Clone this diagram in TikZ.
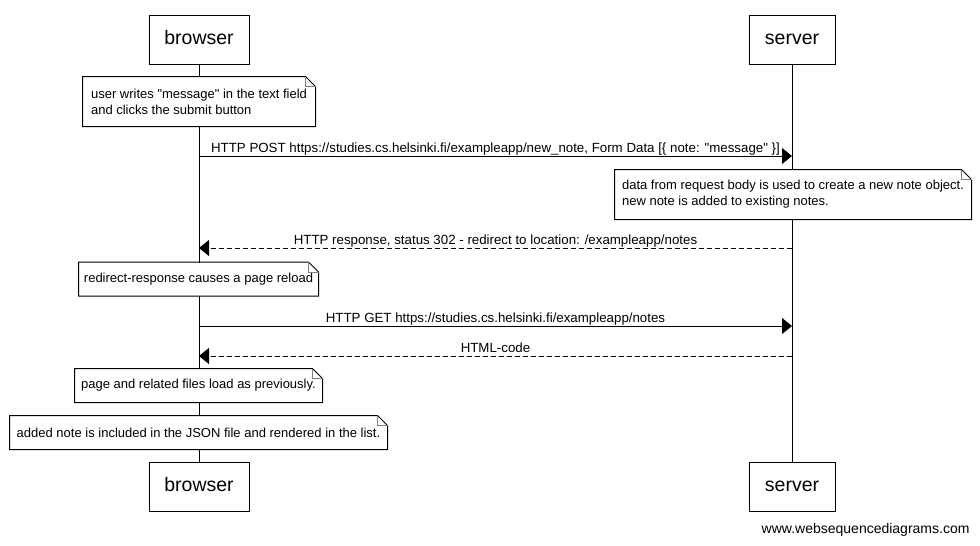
\documentclass[tikz,border=0pt]{standalone}
\usepackage{fontspec}
\setmainfont{Liberation Sans}
\usetikzlibrary{arrows.meta, calc, positioning}
\newcommand{\lblfont}{\fontsize{13.3}{16}\selectfont}
\newcommand{\notefont}{\fontsize{13}{16}\selectfont}
\newcommand{\actorfont}{\fontsize{19.5}{22}\selectfont}

\begin{document}
\begin{tikzpicture}[x=1pt, y=-1pt, line width=1pt,
    actor/.style={draw, fill=white, font=\actorfont, minimum height=49pt, inner sep=0pt,
        text height=14pt, text depth=4pt},
    notebox/.style={fill=white, font=\notefont, align=left, inner sep=0pt},
    msg/.style={-{Triangle[length=10pt, width=16pt]}},
    reply/.style={msg, dash pattern=on 5pt off 3pt},
    lbl/.style={font=\lblfont, anchor=base, yshift=3.5pt, inner sep=0pt}]
    \useasboundingbox (0,0) rectangle (980,546);

    % Participants
    \node[actor, minimum width=100pt] (bTop) at (199,39.5) {browser};
    \node[actor, minimum width=86pt] (sTop) at (792,39.5) {server};
    \node[actor, minimum width=100pt] (bBot) at (199,486.5) {browser};
    \node[actor, minimum width=86pt] (sBot) at (792,486.5) {server};

    % Lifelines
    \draw (bTop) -- (bBot);
    \draw (sTop) -- (sBot);

    % Notes
    \node[notebox, minimum width=232pt, minimum height=49pt] (userNote) at (199,101.5)
        {user writes \textquotedbl message\textquotedbl{} in the text field\\and clicks the submit button};
    \node[notebox, minimum width=356pt, minimum height=49pt] (serverNote) at (793,194.5)
        {data from request body is used to create a new note object.\\new note is added to existing notes.};
    \node[notebox, minimum width=239pt, minimum height=33pt] (redirectNote) at (198.5,279)
        {redirect-response causes a page reload};
    \node[notebox, minimum width=247pt, minimum height=33pt] (loadNote) at (198.5,385.5)
        {page and related files load as previously.};
    \node[notebox, minimum width=377pt, minimum height=33pt] (jsonNote) at (198.5,432.5)
        {added note is included in the JSON file and rendered in the list.};
    \foreach \n in {userNote, serverNote, redirectNote, loadNote, jsonNote} {
        \draw (\n.south west) -- (\n.north west) -- ([xshift=-10pt]\n.north east)
            -- ([yshift=-10pt]\n.north east) -- (\n.south east) -- cycle;
        \draw[gray] ([xshift=-10pt]\n.north east) |- ([yshift=-10pt]\n.north east);
    }

    % Message ends on the lifelines
    \coordinate (bPost) at (bTop |- 0,156);
    \coordinate (sPost) at (sTop |- 0,156);
    \coordinate (bResp) at (bTop |- 0,248);
    \coordinate (sResp) at (sTop |- 0,248);
    \coordinate (bGet) at (bTop |- 0,326);
    \coordinate (sGet) at (sTop |- 0,326);
    \coordinate (bHtml) at (bTop |- 0,356);
    \coordinate (sHtml) at (sTop |- 0,356);

    % Messages
    \draw[msg] (bPost) -- node[lbl] (postLbl)
        {HTTP POST https://studies.cs.helsinki.fi/exampleapp/new\_note, Form Data [\{ note: \textquotedbl message\textquotedbl{} \}]} (sPost);
    \draw[reply] (sResp) -- node[lbl] (respLbl)
        {HTTP response, status 302 - redirect to location: /exampleapp/notes} (bResp);
    \draw[msg] (bGet) -- node[lbl] (getLbl)
        {HTTP GET https://studies.cs.helsinki.fi/exampleapp/notes} (sGet);
    \draw[reply] (sHtml) -- node[lbl] (htmlLbl) {HTML-code} (bHtml);

    % Watermark
    \node[anchor=east, font=\fontsize{14}{16}\selectfont, inner sep=0pt] (mark) at (970,530)
        {www.websequencediagrams.com};
\end{tikzpicture}
\end{document}
